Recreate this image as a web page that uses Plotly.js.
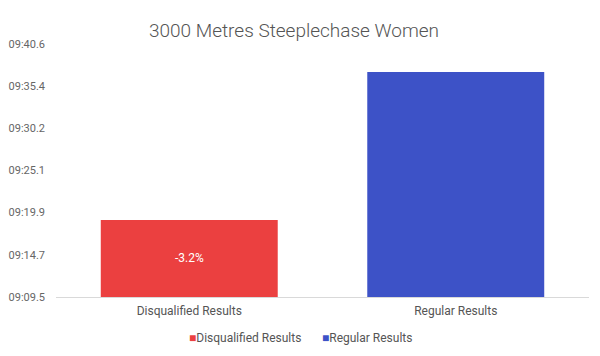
<!DOCTYPE html>
<html>
<head>
<meta charset="utf-8">
<script src="https://cdn.plot.ly/plotly-3.0.1.min.js"></script>
<style>html,body{margin:0;padding:0;background:#fff;}#chart{width:600px;height:356px;}</style>
</head>
<body>
<div id="chart"></div>
<script>
var categories = ["Disqualified Results", "Regular Results"];
var timesSeconds = [558.97, 577.16];
var barLabels = ["-3.2%", ""];
var tickSeconds = [549.5, 554.68, 559.87, 565.05, 570.23, 575.42, 580.6];
var tickLabels = ["09:09.5", "09:14.7", "09:19.9", "09:25.1", "09:30.2", "09:35.4", "09:40.6"];
var colors = ["#eb4040", "#3d52c7"];
var yRange = [549.5, 580.6];

var traces = categories.map(function (c, i) {
  return {
    type: "bar",
    name: c,
    x: [c],
    y: [timesSeconds[i]],
    marker: {color: colors[i]},
    hoverinfo: "none",
    showlegend: false
  };
});

var annotations = [];
categories.forEach(function (c, i) {
  if (barLabels[i]) {
    annotations.push({
      x: c, y: (yRange[0] + timesSeconds[i]) / 2, xref: "x", yref: "y",
      text: barLabels[i], showarrow: false,
      font: {color: "#ffffff", size: 12, family: "Roboto"}
    });
  }
});
var legendX = [0.245, 0.495];
categories.forEach(function (c, i) {
  annotations.push({
    x: legendX[i], y: -0.162, xref: "paper", yref: "paper", xanchor: "left", yanchor: "middle",
    text: '<span style="color:' + colors[i] + '">■</span>' + c, showarrow: false,
    font: {color: "#555", size: 12, family: "Roboto"}
  });
});

var layout = {
  width: 600, height: 356,
  margin: {l: 56, r: 11, t: 44, b: 59},
  paper_bgcolor: "#fff", plot_bgcolor: "#fff",
  font: {family: "Roboto", color: "#555"},
  title: {text: "3000 Metres Steeplechase Women", x: 0.49, xanchor: "center", y: 0.915, yanchor: "middle",
          font: {size: 19, color: "#555", family: "Roboto", weight: 300}},
  barmode: "overlay",
  bargap: 0.336,
  showlegend: false,
  annotations: annotations,
  xaxis: {type: "category", categoryarray: categories, showline: true, linecolor: "#d9d9d9", linewidth: 1,
          ticks: "", tickfont: {size: 12, color: "#555"}, showgrid: false, zeroline: false, ticklabelstandoff: 3},
  yaxis: {range: yRange, tickvals: tickSeconds, ticktext: tickLabels, showgrid: false,
          zeroline: false, showline: false, ticks: "", tickfont: {size: 11, color: "#666"}, ticklabelstandoff: 10}
};

Plotly.newPlot("chart", traces, layout, {displayModeBar: false, staticPlot: true});
</script>
</body>
</html>
